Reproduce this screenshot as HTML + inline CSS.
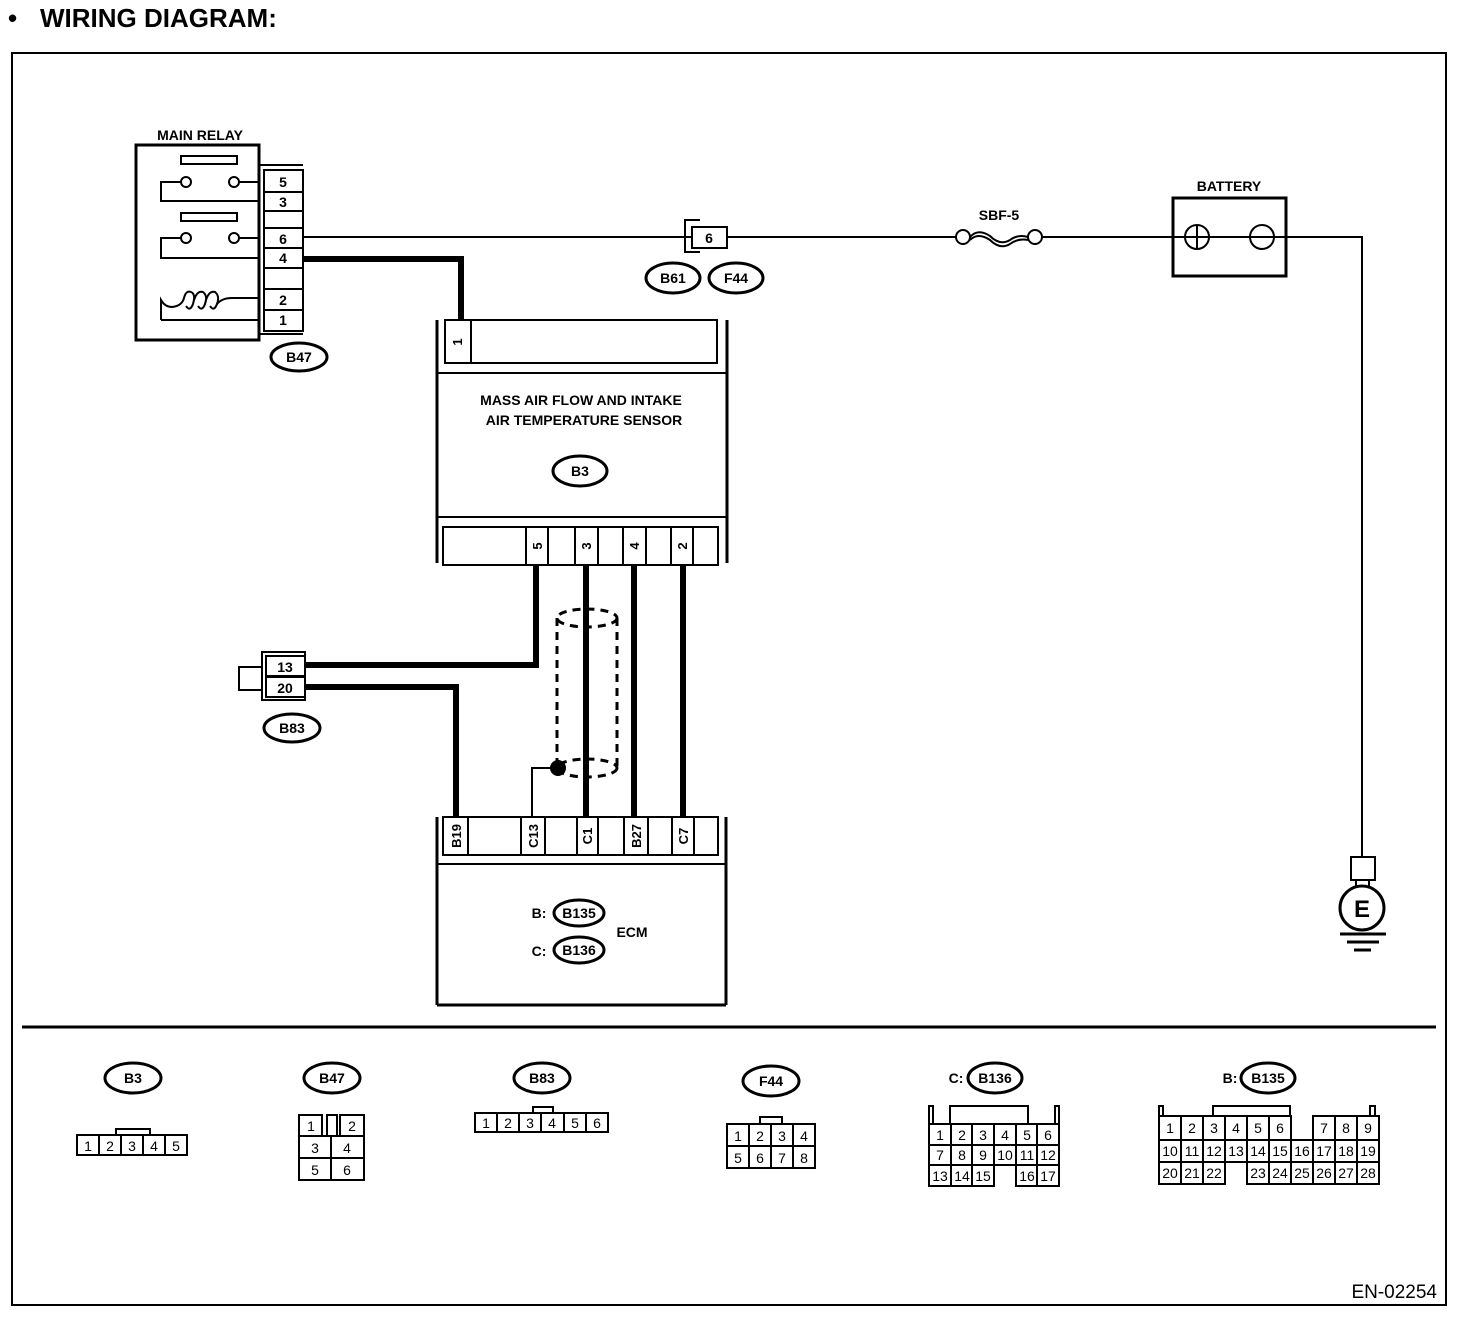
<!DOCTYPE html>
<html><head><meta charset="utf-8"><style>
html,body{margin:0;padding:0;background:#fff}
svg{display:block}
text{font-family:"Liberation Sans",sans-serif;fill:#000}
.b{font-weight:bold}
</style></head><body>
<svg width="1472" height="1320" viewBox="0 0 1472 1320" xmlns="http://www.w3.org/2000/svg">
<text x="8" y="27" font-size="26" class="b">•</text>
<text x="40" y="27" font-size="26" class="b">WIRING DIAGRAM:</text>
<g fill="none" stroke="#000" stroke-width="2">
<rect x="12" y="53" width="1434" height="1252"/>
<line x1="22" y1="1027" x2="1436" y2="1027" stroke-width="3"/>

<!-- main relay -->
<rect x="136" y="145" width="123" height="195" stroke-width="3"/>
<line x1="259" y1="165" x2="303" y2="165"/><line x1="259" y1="334" x2="303" y2="334"/>
<rect x="264" y="170" width="39" height="161"/>
<line x1="264" y1="192" x2="303" y2="192"/><line x1="264" y1="211" x2="303" y2="211"/>
<line x1="264" y1="228" x2="303" y2="228"/><line x1="264" y1="248" x2="303" y2="248"/>
<line x1="264" y1="268" x2="303" y2="268"/><line x1="264" y1="289" x2="303" y2="289"/>
<line x1="264" y1="310" x2="303" y2="310"/>
<rect x="181" y="156" width="56" height="8"/>
<circle cx="186" cy="182" r="5"/><circle cx="234" cy="182" r="5"/>
<path d="M181 182H161V201H259M239 182H259"/>
<rect x="181" y="213" width="56" height="8"/>
<circle cx="186" cy="238" r="5"/><circle cx="234" cy="238" r="5"/>
<path d="M181 238H161V258H259M239 238H259"/>
<path d="M161 320V300Q165 307 172 307M161 320H259"/>
<path d="M172 307Q182 306 184 298Q186 290 191 292Q196 294 193 304Q190 312 186 306M193 304Q196 290 203 292Q208 296 205 304Q202 312 198 306M205 304Q208 290 215 292Q220 296 217 304Q214 312 210 306M217 304Q222 298 232 298H259"/>
<ellipse cx="299" cy="357" rx="28" ry="14" stroke-width="3"/>

<!-- wires top -->
<line x1="303" y1="237" x2="692" y2="237"/>
<path d="M303 259H461V320" stroke-width="6"/>
<path d="M727 237H956M1042 237H1362V857"/>
<path d="M700 220H685V252H700"/>
<rect x="692" y="227" width="35" height="21"/>
<ellipse cx="673" cy="278" rx="27" ry="15" stroke-width="3"/><ellipse cx="736" cy="278" rx="27" ry="15" stroke-width="3"/>
<circle cx="963" cy="237" r="7"/><circle cx="1035" cy="237" r="7"/>
<path d="M970 237Q978 228 990 236Q1000 246 1010 240Q1018 234 1028 237"/>
<path d="M970 240Q978 232 990 240Q1000 250 1010 244Q1018 238 1028 240"/>
<rect x="1173" y="198" width="113" height="78" stroke-width="3"/>
<circle cx="1197" cy="237" r="12"/><path d="M1185 237H1209M1197 225V249"/>
<circle cx="1262" cy="237" r="12"/><path d="M1250 237H1274"/>
<rect x="1351" y="857" width="24" height="23"/>
<path d="M1356 880V888M1369 880V888"/>
<circle cx="1362" cy="908" r="22" stroke-width="3"/>
<path d="M1340 934H1386M1347 942H1379M1354 950H1371" stroke-width="3"/>

<!-- MAF sensor -->
<line x1="437" y1="320" x2="437" y2="563" stroke-width="3"/><line x1="727" y1="320" x2="727" y2="563" stroke-width="3"/>
<rect x="445" y="320" width="272" height="43"/>
<line x1="471" y1="320" x2="471" y2="363"/>
<line x1="437" y1="373" x2="727" y2="373"/>
<line x1="437" y1="517" x2="727" y2="517"/>
<ellipse cx="580" cy="471" rx="27" ry="15" stroke-width="3"/>
<rect x="443" y="527" width="275" height="38"/>
<path d="M526 527V565M548 527V565M575 527V565M598 527V565M623 527V565M646 527V565M671 527V565M693 527V565"/>
<path d="M536 565V665H305" stroke-width="6"/>
<path d="M305 687H456V817" stroke-width="6"/>
<path d="M586 565V817M634 565V817M683 565V817" stroke-width="6"/>
<g stroke-dasharray="8,6" stroke-width="3">
<ellipse cx="587" cy="618" rx="30" ry="9"/>
<ellipse cx="587" cy="768" rx="30" ry="9"/>
<line x1="557" y1="618" x2="557" y2="768"/><line x1="617" y1="618" x2="617" y2="768"/>
</g>
<circle cx="558" cy="768" r="7" fill="#000"/>
<path d="M558 768H532V817"/>
<rect x="239" y="667" width="23" height="23"/>
<rect x="262" y="652" width="43" height="48" fill="#fff"/>
<rect x="266" y="656" width="39" height="20"/><rect x="266" y="677" width="39" height="20"/>
<ellipse cx="292" cy="728" rx="28" ry="14" stroke-width="3"/>
<!-- ECM -->
<line x1="437" y1="817" x2="437" y2="1005" stroke-width="3"/><line x1="726" y1="817" x2="726" y2="1005" stroke-width="3"/>
<line x1="437" y1="1005" x2="726" y2="1005" stroke-width="3"/><line x1="437" y1="864" x2="726" y2="864"/>
<rect x="443" y="817" width="275" height="38" fill="#fff"/>
<path d="M468 817V855M521 817V855M545 817V855M577 817V855M598 817V855M624 817V855M648 817V855M672 817V855M694 817V855"/>
<ellipse cx="579" cy="913" rx="25" ry="13" stroke-width="3"/><ellipse cx="579" cy="950" rx="25" ry="13" stroke-width="3"/>

<!-- bottom connectors -->
<ellipse cx="133" cy="1078" rx="28" ry="15" stroke-width="3"/>
<rect x="116" y="1129" width="34" height="6"/>
<rect x="77" y="1135" width="110" height="20"/>
<path d="M99 1135V1155M121 1135V1155M143 1135V1155M165 1135V1155"/>
<ellipse cx="332" cy="1078" rx="28" ry="15" stroke-width="3"/>
<rect x="299" y="1115" width="23" height="21"/><rect x="327" y="1115" width="10" height="21"/><rect x="340" y="1115" width="24" height="21"/>
<rect x="299" y="1136" width="65" height="44"/>
<path d="M299 1158H364M331 1136V1180"/>
<ellipse cx="542" cy="1078" rx="28" ry="15" stroke-width="3"/>
<rect x="533" y="1107" width="20" height="6"/>
<rect x="475" y="1113" width="133" height="19"/>
<path d="M497 1113V1132M519 1113V1132M541 1113V1132M564 1113V1132M586 1113V1132"/>
<ellipse cx="771" cy="1081" rx="28" ry="15" stroke-width="3"/>
<rect x="760" y="1117" width="22" height="7"/>
<rect x="727" y="1124" width="88" height="44"/>
<path d="M727 1146H815M749 1124V1168M771 1124V1168M793 1124V1168"/>
<ellipse cx="995" cy="1078" rx="27" ry="15" stroke-width="3"/>
<path d="M950 1124V1106H1028V1124M929 1124V1106H933V1124M1055 1124V1106H1059V1124"/>
<path d="M929 1124H1059V1186H1016V1165H994V1186H929Z"/>
<path d="M929 1145H1059M929 1165H994M1016 1165H1059M951 1124V1186M972 1124V1186M994 1124V1165M1016 1124V1165M1037 1124V1186"/>
<ellipse cx="1268" cy="1078" rx="27" ry="15" stroke-width="3"/>
<path d="M1213 1116V1106H1290V1116M1159 1116V1106H1163V1116M1370 1116V1106H1375V1116"/>
<path d="M1159 1116H1291V1140H1313V1116H1379V1184H1247V1162H1225V1184H1159Z"/>
<path d="M1159 1140H1379M1159 1162H1379M1181 1116V1184M1203 1116V1184M1225 1116V1162M1247 1116V1162M1269 1116V1184M1291 1140V1184M1313 1116V1184M1335 1116V1184M1357 1116V1184"/>
</g>

<g font-size="14" class="b" text-anchor="middle">
<text x="200" y="140">MAIN RELAY</text>
<text x="283" y="187">5</text><text x="283" y="207">3</text><text x="283" y="244">6</text><text x="283" y="263">4</text>
<text x="283" y="305">2</text><text x="283" y="325">1</text>
<text x="299" y="362">B47</text>
<text x="709" y="243">6</text>
<text x="673" y="283">B61</text><text x="736" y="283">F44</text>
<text x="999" y="220">SBF-5</text>
<text x="1229" y="191">BATTERY</text>
<text x="1362" y="917" font-size="24">E</text>
<text x="581" y="405">MASS AIR FLOW AND INTAKE</text>
<text x="584" y="425">AIR TEMPERATURE SENSOR</text>
<text x="580" y="476">B3</text>
<text x="285" y="672">13</text><text x="285" y="693">20</text>
<text x="292" y="733">B83</text>
<text x="539" y="918">B:</text><text x="579" y="918">B135</text>
<text x="539" y="956">C:</text><text x="579" y="955">B136</text>
<text x="632" y="937">ECM</text>
<text x="133" y="1083">B3</text><text x="332" y="1083">B47</text><text x="542" y="1083">B83</text><text x="771" y="1086">F44</text>
<text x="956" y="1083">C:</text><text x="995" y="1083">B136</text>
<text x="1230" y="1083">B:</text><text x="1268" y="1083">B135</text>
</g>
<g font-size="13" class="b" text-anchor="middle">
<text transform="translate(462,342) rotate(-90)">1</text>
<text transform="translate(542,546) rotate(-90)">5</text>
<text transform="translate(591,546) rotate(-90)">3</text>
<text transform="translate(639,546) rotate(-90)">4</text>
<text transform="translate(687,546) rotate(-90)">2</text>
<text transform="translate(461,836) rotate(-90)">B19</text>
<text transform="translate(538,836) rotate(-90)">C13</text>
<text transform="translate(592,836) rotate(-90)">C1</text>
<text transform="translate(641,836) rotate(-90)">B27</text>
<text transform="translate(688,836) rotate(-90)">C7</text>
</g>
<g font-size="14" text-anchor="middle">
<text x="88" y="1151">1</text><text x="110" y="1151">2</text><text x="132" y="1151">3</text><text x="154" y="1151">4</text><text x="176" y="1151">5</text>
<text x="311" y="1131">1</text><text x="352" y="1131">2</text><text x="315" y="1153">3</text><text x="347" y="1153">4</text><text x="315" y="1175">5</text><text x="347" y="1175">6</text>
<text x="486" y="1128">1</text><text x="508" y="1128">2</text><text x="530" y="1128">3</text><text x="552" y="1128">4</text><text x="575" y="1128">5</text><text x="597" y="1128">6</text>
<text x="738" y="1141">1</text><text x="760" y="1141">2</text><text x="782" y="1141">3</text><text x="804" y="1141">4</text>
<text x="738" y="1163">5</text><text x="760" y="1163">6</text><text x="782" y="1163">7</text><text x="804" y="1163">8</text>
<text x="940" y="1140">1</text><text x="962" y="1140">2</text><text x="983" y="1140">3</text><text x="1005" y="1140">4</text><text x="1027" y="1140">5</text><text x="1048" y="1140">6</text>
<text x="940" y="1160">7</text><text x="962" y="1160">8</text><text x="983" y="1160">9</text><text x="1005" y="1160">10</text><text x="1027" y="1160">11</text><text x="1048" y="1160">12</text>
<text x="940" y="1181">13</text><text x="962" y="1181">14</text><text x="983" y="1181">15</text><text x="1027" y="1181">16</text><text x="1048" y="1181">17</text>
<text x="1170" y="1133">1</text><text x="1192" y="1133">2</text><text x="1214" y="1133">3</text><text x="1236" y="1133">4</text><text x="1258" y="1133">5</text><text x="1280" y="1133">6</text><text x="1324" y="1133">7</text><text x="1346" y="1133">8</text><text x="1368" y="1133">9</text>
<text x="1170" y="1156">10</text><text x="1192" y="1156">11</text><text x="1214" y="1156">12</text><text x="1236" y="1156">13</text><text x="1258" y="1156">14</text><text x="1280" y="1156">15</text><text x="1302" y="1156">16</text><text x="1324" y="1156">17</text><text x="1346" y="1156">18</text><text x="1368" y="1156">19</text>
<text x="1170" y="1178">20</text><text x="1192" y="1178">21</text><text x="1214" y="1178">22</text><text x="1258" y="1178">23</text><text x="1280" y="1178">24</text><text x="1302" y="1178">25</text><text x="1324" y="1178">26</text><text x="1346" y="1178">27</text><text x="1368" y="1178">28</text>
</g>
<text x="1437" y="1298" font-size="19" text-anchor="end">EN-02254</text>
</svg>
</body></html>
